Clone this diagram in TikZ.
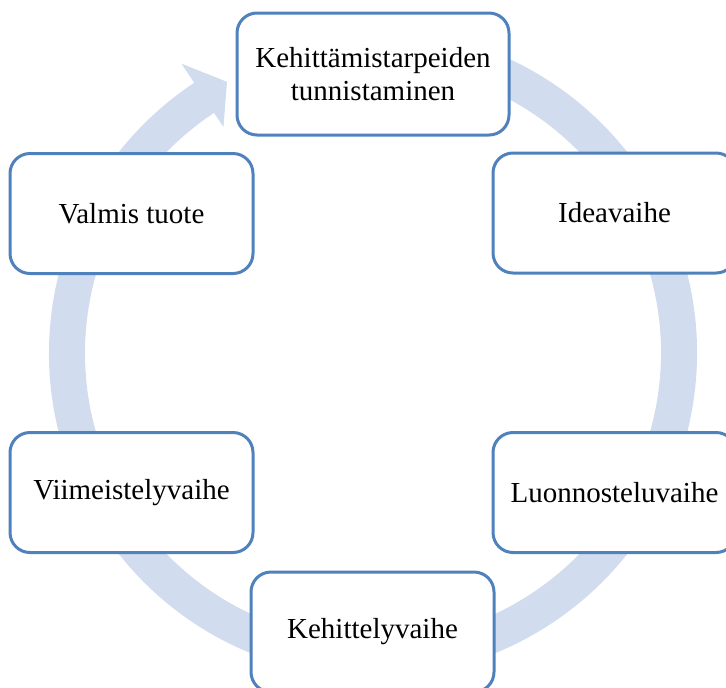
\documentclass[tikz,border=0pt]{standalone}
\usepackage{fontspec}
\setmainfont{Liberation Serif}
\definecolor{boxblue}{RGB}{79,129,189}
\definecolor{ringblue}{RGB}{209,220,239}
\begin{document}
\begin{tikzpicture}[x=0.5pt,y=0.5pt,
  stage/.style={draw=boxblue, line width=1.5pt, fill=white, rounded corners=10pt,
    minimum width=121.5pt, minimum height=60pt, inner sep=0pt, align=center,
    font=\fontsize{14.5}{16.5}\selectfont}]
\path[use as bounding box] (0,0) rectangle (726,-687);
\clip (0,0) rectangle (726,-687);
% cycle arrow
\begin{scope}[shift={(373,-353)}]
  \fill[ringblue] (80:324) arc[start angle=80, end angle=-236.5, radius=324]
    -- (-236.5:347) -- (118.3:308) -- (-236.5:271) -- (-236.5:288)
    arc[start angle=-236.5, end angle=80, radius=288] -- cycle;
\end{scope}
\node[stage, minimum width=136pt, minimum height=61pt] (top) at (373,-74) {Kehittämistarpeiden\\tunnistaminen};
\node[stage] (idea) at (614.5,-213) {Ideavaihe};
\node[stage] (luonnos) at (614.5,-492.5) {Luonnosteluvaihe};
\node[stage] (kehittely) at (372.5,-632) {Kehittelyvaihe};
\node[stage] (viimeistely) at (131.5,-492.5) {Viimeistelyvaihe};
\node[stage] (valmis) at (131.5,-213.5) {Valmis tuote};
\end{tikzpicture}
\end{document}
